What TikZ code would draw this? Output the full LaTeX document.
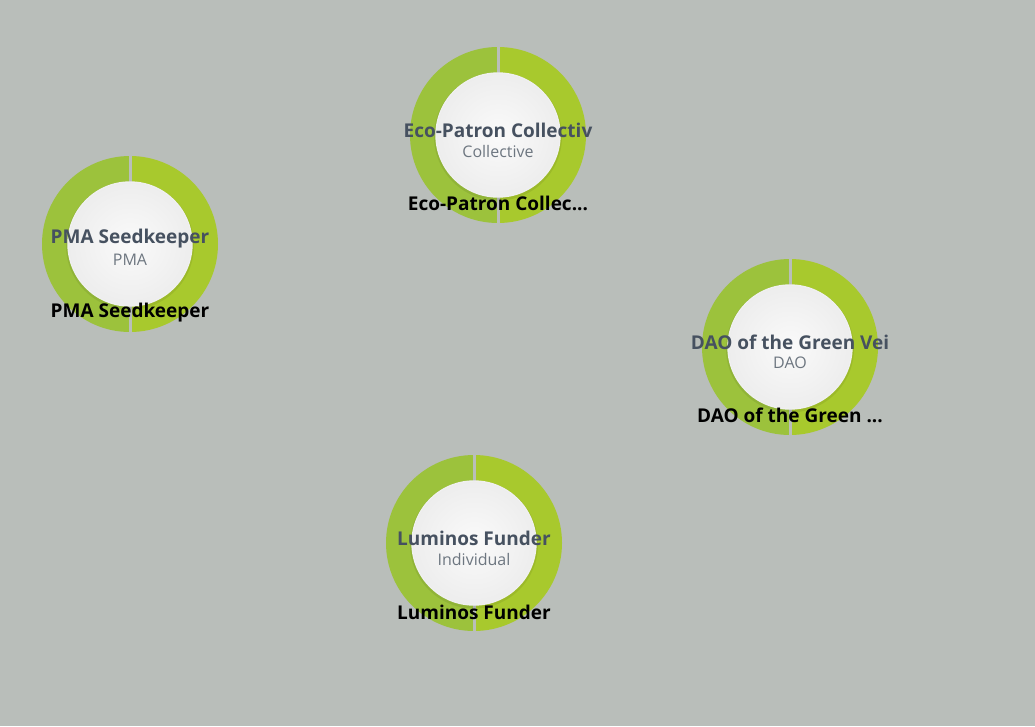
\documentclass[tikz,border=0pt]{standalone}
\usepackage{fontspec}
\setmainfont{Open Sans}
\usetikzlibrary{calc}
\definecolor{bgc}{HTML}{B9BEBA}
\definecolor{ringL}{HTML}{9CC23C}
\definecolor{ringR}{HTML}{A8C92D}
\definecolor{titlec}{HTML}{465160}
\definecolor{subc}{HTML}{6D7680}
\tikzset{
  titletxt/.style={font=\bfseries\fontsize{19}{22}\selectfont, text=titlec, inner sep=0},
  subtxt/.style={font=\fontsize{16}{19}\selectfont, text=subc, inner sep=0},
  labeltxt/.style={font=\bfseries\fontsize{19}{22}\selectfont, text=black, inner sep=0},
  core/.style={circle, minimum size=124pt, inner sep=0, draw=white!88!gray, line width=1.4pt},
}
\newcommand\donutnode[5]{%
  \coordinate (#1) at (#2,-#3);
  \fill[ringR] ($(#1)+(90:88)$) arc[start angle=90,end angle=-90,radius=88] -- ($(#1)+(-90:62)$) arc[start angle=-90,end angle=90,radius=62] -- cycle;
  \fill[ringL] ($(#1)+(90:88)$) arc[start angle=90,end angle=270,radius=88] -- ($(#1)+(270:62)$) arc[start angle=270,end angle=90,radius=62] -- cycle;
  \draw[bgc, line width=3pt] ($(#1)+(0,89)$) -- ($(#1)+(0,60)$);
  \draw[bgc, line width=3pt] ($(#1)+(0,-89)$) -- ($(#1)+(0,-60)$);
  \fill[black, opacity=0.07] ($(#1)+(0,-1.5)$) circle[radius=64];
  \shade[inner color=white!96!gray, outer color=white!86!gray] (#1) circle[radius=62];
  \node[core] (#1-core) at (#1) {};
  \node[titletxt] (#1-title) at ($(#1)+(0,5)$) {#4};
  \node[subtxt] (#1-sub) at ($(#1)+(0,-16)$) {#5};
}
\begin{document}
\begin{tikzpicture}[x=1pt,y=1pt]
\fill[bgc] (0,0) rectangle (1035,-726);
\useasboundingbox (0,0) rectangle (1035,-726);
\donutnode{eco}{498}{135}{Eco-Patron Collectiv}{Collective}
\node[labeltxt] (eco-label) at ($(eco)+(0,-68)$) {Eco-Patron Collec...};
\donutnode{pma}{130}{244}{PMA Seedkeeper}{PMA}
\node[labeltxt] (pma-label) at ($(pma)+(0,-69)$) {PMA Seedkeeper};
\donutnode{dao}{790}{347}{DAO of the Green Vei}{DAO}
\node[labeltxt] (dao-label) at ($(dao)+(0,-68)$) {DAO of the Green ...};
\donutnode{lum}{474}{543}{Luminos Funder}{Individual}
\node[labeltxt] (lum-label) at ($(lum)+(0,-69)$) {Luminos Funder};
\end{tikzpicture}
\end{document}
